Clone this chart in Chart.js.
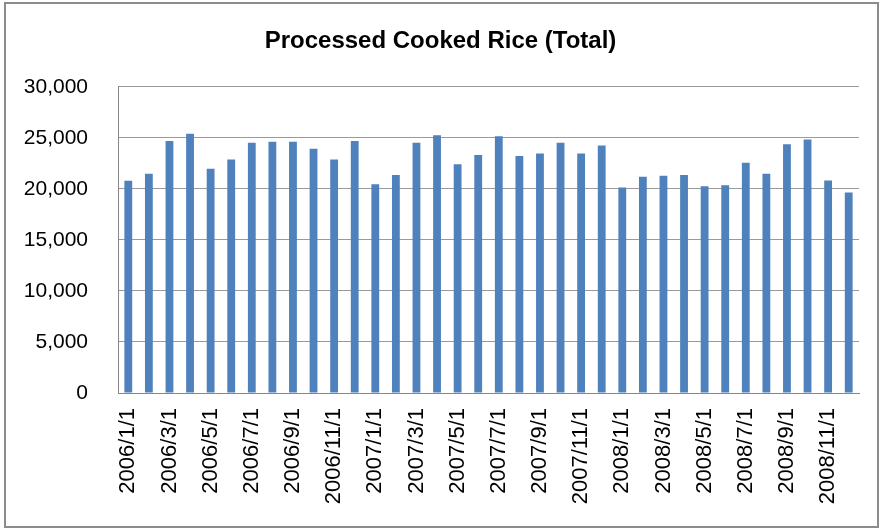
<!DOCTYPE html>
<html>
<head>
<meta charset="utf-8">
<script src="https://cdn.jsdelivr.net/npm/chart.js@4/dist/chart.umd.min.js"></script>
<style>
  html, body { margin: 0; padding: 0; background: #fff; }
  #wrap { position: relative; width: 880px; height: 529px; }
</style>
</head>
<body>
<div id="wrap"><canvas id="chart"></canvas></div>
<script>
const months = [
  '2006/1/1', '2006/2/1', '2006/3/1', '2006/4/1', '2006/5/1', '2006/6/1',
  '2006/7/1', '2006/8/1', '2006/9/1', '2006/10/1', '2006/11/1', '2006/12/1',
  '2007/1/1', '2007/2/1', '2007/3/1', '2007/4/1', '2007/5/1', '2007/6/1',
  '2007/7/1', '2007/8/1', '2007/9/1', '2007/10/1', '2007/11/1', '2007/12/1',
  '2008/1/1', '2008/2/1', '2008/3/1', '2008/4/1', '2008/5/1', '2008/6/1',
  '2008/7/1', '2008/8/1', '2008/9/1', '2008/10/1', '2008/11/1', '2008/12/1',
];

const totals = [
  20800, 21470, 24700, 25390, 21960, 22870, 24510, 24610, 24610, 23920, 22870, 24700,
  20450, 21370, 24510, 25260, 22410, 23330, 25160, 23230, 23460, 24510, 23460, 24250,
  20130, 21180, 21280, 21370, 20260, 20360, 22550, 21470, 24380, 24840, 20810, 19640,
];

const yMax = 30000;
const yStep = 5000;

const FONT = "'Liberation Sans', Arial, sans-serif";

// outer chart frame, like the spreadsheet chart border
const frame = {
  id: 'frame',
  beforeDraw(chart) {
    const { ctx } = chart;
    ctx.save();
    ctx.fillStyle = '#fff';
    ctx.fillRect(0, 0, chart.width, chart.height);
    ctx.strokeStyle = '#8c8c8c';
    ctx.lineWidth = 2;
    ctx.strokeRect(5, 3, 873, 524);
    ctx.restore();
  },
};

new Chart(document.getElementById('chart'), {
  type: 'bar',
  data: {
    labels: months,
    datasets: [
      {
        label: 'Processed Cooked Rice (Total)',
        data: totals,
        backgroundColor: '#4F81BD',
        borderWidth: 0,
        barPercentage: 0.38,
        categoryPercentage: 1,
      },
    ],
  },
  options: {
    responsive: true,
    maintainAspectRatio: false,
    animation: false,
    layout: { padding: { left: 22, right: 21, top: 0, bottom: 0 } },
    plugins: {
      legend: { display: false },
      tooltip: { enabled: false },
      title: {
        display: true,
        text: 'Processed Cooked Rice (Total)',
        color: '#000',
        font: { family: FONT, size: 24, weight: 'bold' },
        padding: { top: 27, bottom: 31 },
      },
    },
    scales: {
      x: {
        grid: { drawOnChartArea: false, drawTicks: false },
        border: { color: '#868686', width: 1 },
        ticks: {
          autoSkip: false,
          maxRotation: 90,
          minRotation: 90,
          padding: 15,
          color: '#000',
          font: { family: FONT, size: 22 },
          callback: (v, i) => (i % 2 === 0 ? months[i] : ''),
        },
        afterFit: (scale) => {
          scale.height = 136;
          scale.paddingLeft = 0;
          scale.paddingRight = 0;
        },
      },
      y: {
        min: 0,
        max: yMax,
        grid: { color: '#9a9a9a', drawTicks: false },
        border: { color: '#868686', width: 1 },
        ticks: {
          stepSize: yStep,
          padding: 30,
          color: '#000',
          font: { family: FONT, size: 21 },
          callback: (v) => v.toLocaleString('en-US'),
        },
        afterFit: (scale) => { scale.width = 96; },
      },
    },
  },
  plugins: [frame],
});
</script>
</body>
</html>
